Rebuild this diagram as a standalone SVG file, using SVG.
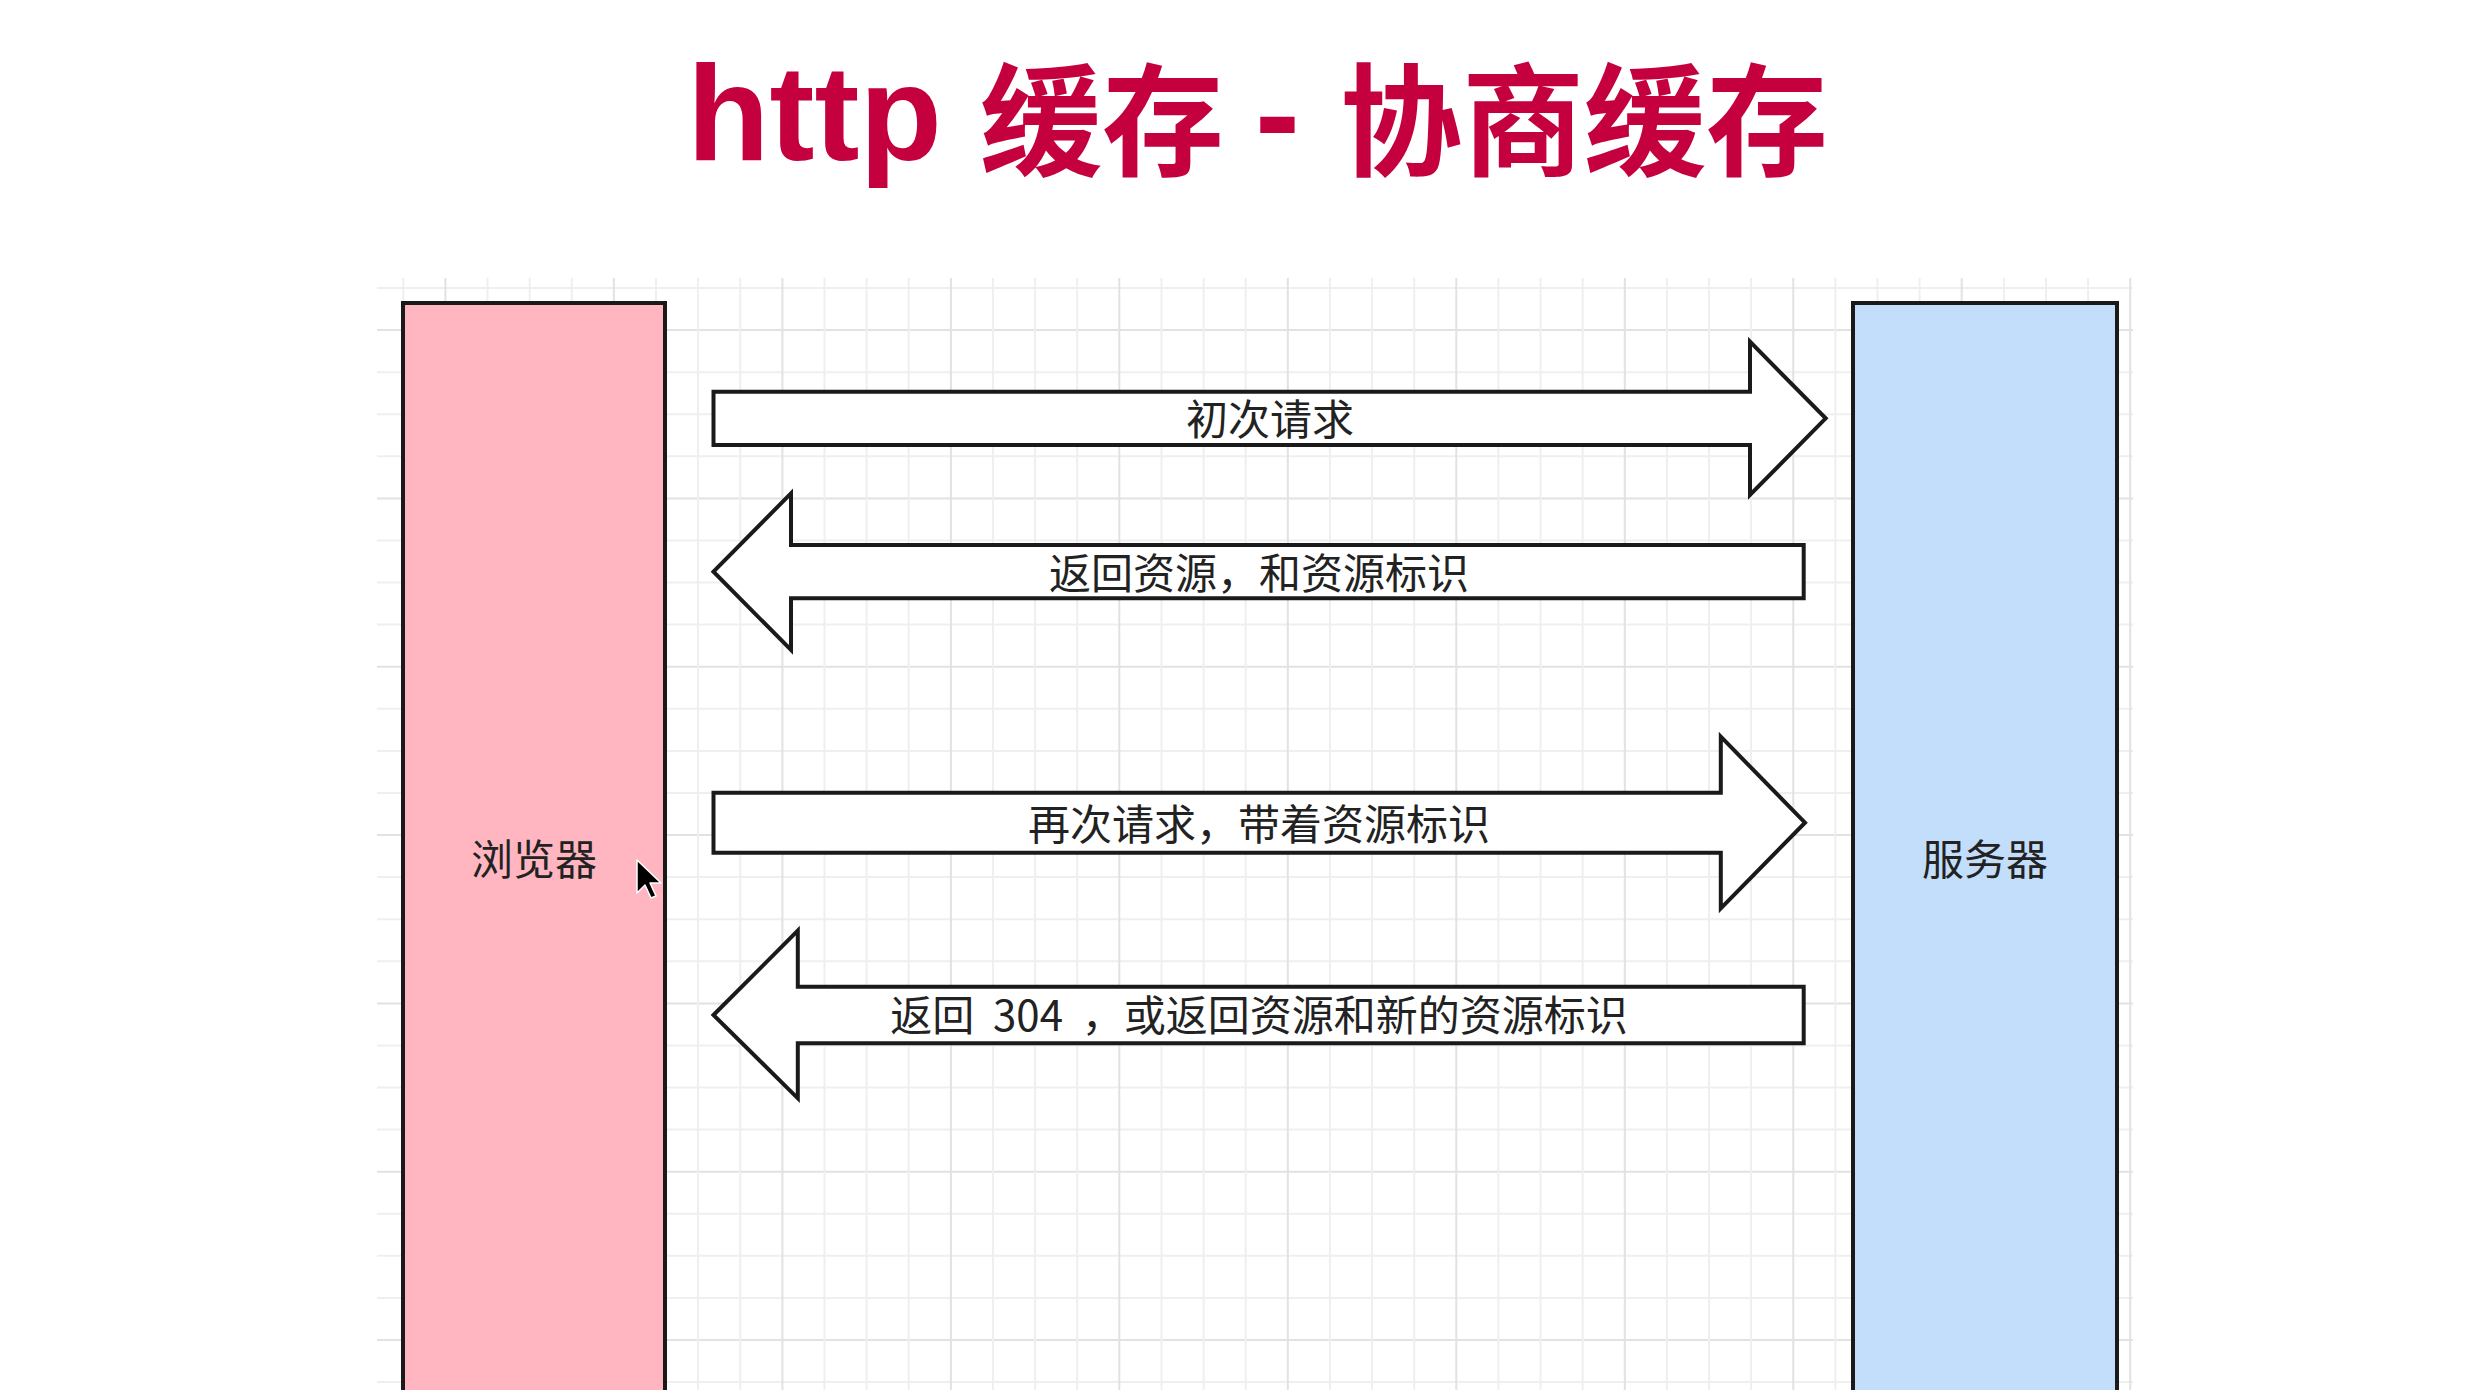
<svg xmlns="http://www.w3.org/2000/svg" width="2470" height="1390" viewBox="0 0 2470 1390">
  <style>
    .grid-minor { stroke: #efefef; stroke-width: 2; fill: none; }
    .grid-major { stroke: #e2e2e2; stroke-width: 2; fill: none; }
    .box { stroke: #1a1a1a; stroke-width: 4; }
    .arrow { fill: #ffffff; stroke: #1a1a1a; stroke-width: 4; stroke-linejoin: miter; }
    .label { font-family: "Noto Sans CJK SC", "Liberation Sans", sans-serif; font-size: 42px; fill: #222222; text-anchor: middle; }
    .title-latin { font-family: "Liberation Sans", "Noto Sans CJK SC", sans-serif; font-weight: bold; font-size: 135px; }
    .title-cjk { font-family: "Noto Sans CJK SC", "Liberation Sans", sans-serif; font-weight: bold; font-size: 122px; }
  </style>
  <rect width="2470" height="1390" fill="#ffffff"/>

  <g id="title" fill="#c5003e">
    <text y="160" xml:space="preserve"><tspan class="title-latin" x="687" y="160">http </tspan><tspan class="title-cjk" x="980" y="166">缓存 </tspan><tspan class="title-latin" x="1255" y="160">- </tspan><tspan class="title-cjk" x="1340" y="166">协商缓存</tspan></text>
  </g>

  <g id="grid">
    <path class="grid-minor" d="M377 288H2133M377 372.2H2133M377 414.2H2133M377 456.3H2133M377 540.5H2133M377 582.6H2133M377 624.6H2133M377 708.8H2133M377 750.9H2133M377 793H2133M377 877.1H2133M377 919.2H2133M377 961.3H2133M377 1045.4H2133M377 1087.5H2133M377 1129.6H2133M377 1213.8H2133M377 1255.8H2133M377 1297.9H2133M377 1382.1H2133"/>
    <path class="grid-major" d="M377 330.1H2133M377 498.4H2133M377 666.7H2133M377 835H2133M377 1003.4H2133M377 1171.7H2133M377 1340H2133"/>
    <path class="grid-minor" d="M403.3 278V1390M487.5 278V1390M529.7 278V1390M571.8 278V1390M656 278V1390M698.1 278V1390M740.3 278V1390M824.5 278V1390M866.6 278V1390M908.7 278V1390M993 278V1390M1035.1 278V1390M1077.2 278V1390M1161.5 278V1390M1203.6 278V1390M1245.7 278V1390M1329.9 278V1390M1372.1 278V1390M1414.2 278V1390M1498.4 278V1390M1540.5 278V1390M1582.7 278V1390M1666.9 278V1390M1709 278V1390M1751.1 278V1390M1835.4 278V1390M1877.5 278V1390M1919.6 278V1390M2003.9 278V1390M2046 278V1390M2088.1 278V1390"/>
    <path class="grid-major" d="M445.4 278V1390M613.9 278V1390M782.4 278V1390M950.9 278V1390M1119.3 278V1390M1287.8 278V1390M1456.3 278V1390M1624.8 278V1390M1793.3 278V1390M1961.7 278V1390M2130.2 278V1390"/>
  </g>

  <g id="browser">
    <rect class="box" x="403" y="303" width="262" height="1200" fill="#ffb6c1"/>
    <text class="label" x="534" y="875">浏览器</text>
  </g>

  <g id="server">
    <rect class="box" x="1853" y="303" width="264" height="1200" fill="#c2defb"/>
    <text class="label" x="1985" y="875">服务器</text>
  </g>

  <g id="connectors">
    <g id="arrow-first-request">
      <polygon class="arrow" points="713.5,391.7 1750,391.7 1750,341.7 1825.7,418.3 1750,495 1750,445 713.5,445"/>
      <text class="label" x="1270" y="435">初次请求</text>
    </g>
    <g id="arrow-return-resource">
      <polygon class="arrow" points="713.5,571.7 791,493.3 791,545 1803.7,545 1803.7,598.3 791,598.3 791,650"/>
      <text class="label" x="1259" y="589">返回资源，和资源标识</text>
    </g>
    <g id="arrow-second-request">
      <polygon class="arrow" points="713.5,792.7 1720.8,792.7 1720.8,736.7 1805,822.7 1720.8,908.3 1720.8,852.7 713.5,852.7"/>
      <text class="label" x="1259" y="840">再次请求，带着资源标识</text>
    </g>
    <g id="arrow-return-304">
      <polygon class="arrow" points="713.5,1015 797.8,930.7 797.8,986.7 1803.7,986.7 1803.7,1043.3 797.8,1043.3 797.8,1098.3"/>
      <text class="label" x="1259" y="1031" xml:space="preserve">返回  304  ，或返回资源和新的资源标识</text>
    </g>
  </g>

  <g id="cursor">
    <polygon points="637,860 637,893 645,885 651,898 656,896 650,883 661,883" fill="#000000" stroke="#ffffff" stroke-width="1.5" stroke-linejoin="round"/>
  </g>
</svg>
